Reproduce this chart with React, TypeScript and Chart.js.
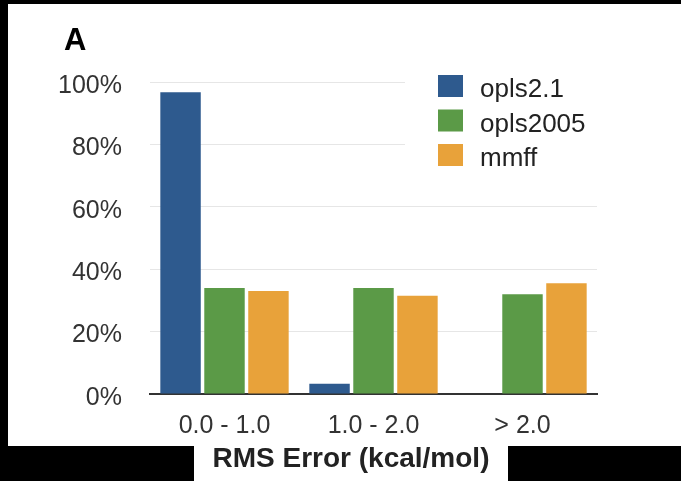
import React, { useEffect, useRef } from 'react';
import { Chart, registerables } from 'chart.js';

Chart.register(...registerables);

const categories = ['0.0 - 1.0', '1.0 - 2.0', '> 2.0'];
const seriesNames = ['opls2.1', 'opls2005', 'mmff'];
const opls21Values = [96.7, 3.3, 0];
const opls2005Values = [34, 34, 32];
const mmffValues = [33, 31.5, 35.5];
const seriesColors = ['#2e5a8e', '#5b9a47', '#e8a23a'];
const yMin = 0;
const yMax = 100;
const yStep = 20;
const panelLabel = 'A';
const xAxisTitle = 'RMS Error (kcal/mol)';

const FONT = '"Liberation Sans", Arial, Helvetica, sans-serif';

const overlayPlugin = {
  id: 'overlay',
  beforeDatasetsDraw(chart: any) {
    const ctx = chart.ctx;
    const area = chart.chartArea;
    ctx.save();
    // legend box (white background hides grid lines behind it)
    const boxLeft = area.right - 192;
    ctx.fillStyle = '#ffffff';
    ctx.fillRect(boxLeft, area.top - 12, area.right - boxLeft + 4, 118);
    chart.data.datasets.forEach((ds: any, i: number) => {
      const baseline = area.top + 15 + i * 34.5;
      ctx.fillStyle = ds.backgroundColor;
      ctx.fillRect(boxLeft + 33, baseline - 22, 25, 22);
      ctx.fillStyle = '#222222';
      ctx.font = `26px ${FONT}`;
      ctx.textAlign = 'left';
      ctx.textBaseline = 'alphabetic';
      ctx.fillText(ds.label, boxLeft + 75, baseline);
    });
    ctx.restore();
  },
  afterDraw(chart: any) {
    const ctx = chart.ctx;
    ctx.save();
    ctx.fillStyle = '#000000';
    ctx.font = `bold 31px ${FONT}`;
    ctx.textAlign = 'left';
    ctx.textBaseline = 'alphabetic';
    ctx.fillText(panelLabel, 64, 50);
    ctx.fillStyle = '#222222';
    ctx.font = `bold 28px ${FONT}`;
    ctx.textAlign = 'center';
    ctx.fillText(xAxisTitle, 351, 467);
    ctx.restore();
  },
};

export default function App() {
  const canvasRef = useRef<HTMLCanvasElement | null>(null);

  useEffect(() => {
    if (!canvasRef.current) return;
    const seriesValues = [opls21Values, opls2005Values, mmffValues];
    const chart = new Chart(canvasRef.current, {
      type: 'bar',
      data: {
        labels: categories,
        datasets: seriesNames.map((name, i) => ({
          label: name,
          data: seriesValues[i],
          backgroundColor: seriesColors[i],
          borderWidth: 0,
          categoryPercentage: 0.885,
          barPercentage: 0.92,
        })),
      },
      options: {
        animation: false,
        responsive: false,
        maintainAspectRatio: false,
        layout: { padding: { top: 82, right: 84, bottom: 0, left: 0 } },
        plugins: {
          legend: { display: false },
          tooltip: { enabled: false },
          title: { display: false },
        },
        scales: {
          x: {
            grid: { display: false, drawTicks: false },
            border: { display: true, color: '#333333', width: 2 },
            ticks: {
              color: '#333333',
              font: { family: FONT, size: 25 },
              padding: 17,
              maxRotation: 0,
            },
            afterFit: (scale: any) => {
              scale.height = 87;
            },
          },
          y: {
            min: yMin,
            max: yMax,
            grid: { color: '#e6e6e6', lineWidth: 1, drawTicks: false },
            border: { display: false },
            ticks: {
              stepSize: yStep,
              color: '#333333',
              font: { family: FONT, size: 25 },
              padding: 28,
              labelOffset: 4,
              callback: (v: any) => `${v}%`,
            },
            afterFit: (scale: any) => {
              scale.width = 150;
            },
          },
        },
      },
      plugins: [overlayPlugin],
    });
    return () => chart.destroy();
  }, []);

  return (
    <div style={{ position: 'absolute', left: 0, top: 0, width: 681, height: 481, background: '#000000', overflow: 'hidden' }}>
      <div style={{ position: 'absolute', left: 8, top: 4, width: 673, height: 442, background: '#ffffff' }} />
      <div style={{ position: 'absolute', left: 194, top: 446, width: 314, height: 35, background: '#ffffff' }} />
      <canvas
        ref={canvasRef}
        width={681}
        height={481}
        style={{ position: 'absolute', left: 0, top: 0, width: 681, height: 481 }}
      />
    </div>
  );
}
